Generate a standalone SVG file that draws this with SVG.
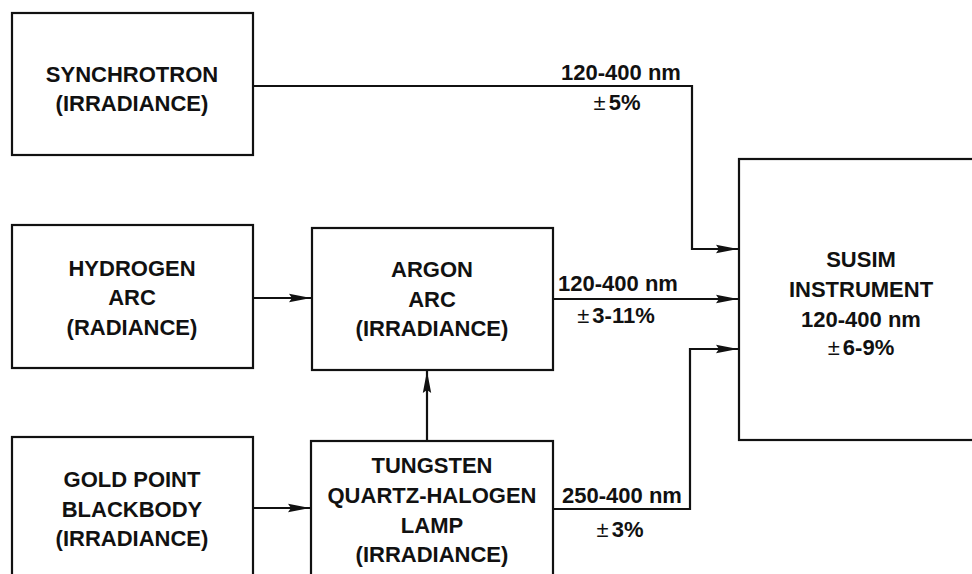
<svg xmlns="http://www.w3.org/2000/svg" width="972" height="574" viewBox="0 0 972 574">
<style>
rect.box{fill:none;stroke:#111;stroke-width:2.2}
text{font-family:"Liberation Sans",Arial,sans-serif;font-weight:bold;font-size:22px;fill:#111;text-anchor:middle}
.pm{font-weight:normal}
.conn path{fill:none;stroke:#111;stroke-width:2.2}
</style>
<defs>
<marker id="ah" markerUnits="userSpaceOnUse" markerWidth="24" markerHeight="10" refX="22" refY="5" orient="auto">
<path d="M0,0.8 L22,5 L0,9.2 L3,5 z" fill="#111"/>
</marker>
</defs>
<rect width="972" height="574" fill="#fff"/>
<g id="synchrotron">
<rect class="box" x="12" y="13" width="241" height="142"/>
<text x="132" y="82">SYNCHROTRON</text>
<text x="132" y="111">(IRRADIANCE)</text>
</g>
<g id="hydrogen">
<rect class="box" x="12" y="225" width="241" height="143"/>
<text x="132" y="276">HYDROGEN</text>
<text x="132" y="305">ARC</text>
<text x="132" y="335">(RADIANCE)</text>
</g>
<g id="argon">
<rect class="box" x="312" y="228" width="241" height="142"/>
<text x="432" y="277">ARGON</text>
<text x="432" y="307">ARC</text>
<text x="432" y="336">(IRRADIANCE)</text>
</g>
<g id="gold">
<rect class="box" x="12" y="437" width="241" height="150"/>
<text x="132" y="487">GOLD POINT</text>
<text x="132" y="517">BLACKBODY</text>
<text x="132" y="546">(IRRADIANCE)</text>
</g>
<g id="tungsten">
<rect class="box" x="311" y="441" width="242" height="150"/>
<text x="432" y="473">TUNGSTEN</text>
<text x="432" y="503">QUARTZ-HALOGEN</text>
<text x="432" y="533">LAMP</text>
<text x="432" y="562">(IRRADIANCE)</text>
</g>
<g id="susim">
<rect class="box" x="739" y="159" width="250" height="281"/>
<text x="861" y="267">SUSIM</text>
<text x="861" y="297">INSTRUMENT</text>
<text x="861" y="327">120-400 nm</text>
<text x="861" y="355"><tspan class="pm">±</tspan><tspan dx="3">6-9%</tspan></text>
</g>
<g class="conn" id="connectors">
<path d="M253,86 H692 V249 H738" marker-end="url(#ah)"/>
<path d="M253,298 H311" marker-end="url(#ah)"/>
<path d="M553,299 H738" marker-end="url(#ah)"/>
<path d="M253,508 H310" marker-end="url(#ah)"/>
<path d="M427,441 V371" marker-end="url(#ah)"/>
<path d="M553,509 H690 V349 H738" marker-end="url(#ah)"/>
</g>
<g id="labels">
<text x="621" y="80">120-400 nm</text>
<text x="617" y="110"><tspan class="pm">±</tspan><tspan dx="3">5%</tspan></text>
<text x="618" y="291">120-400 nm</text>
<text x="616" y="323"><tspan class="pm">±</tspan><tspan dx="3">3-11%</tspan></text>
<text x="622" y="503">250-400 nm</text>
<text x="620" y="537"><tspan class="pm">±</tspan><tspan dx="3">3%</tspan></text>
</g>
</svg>
